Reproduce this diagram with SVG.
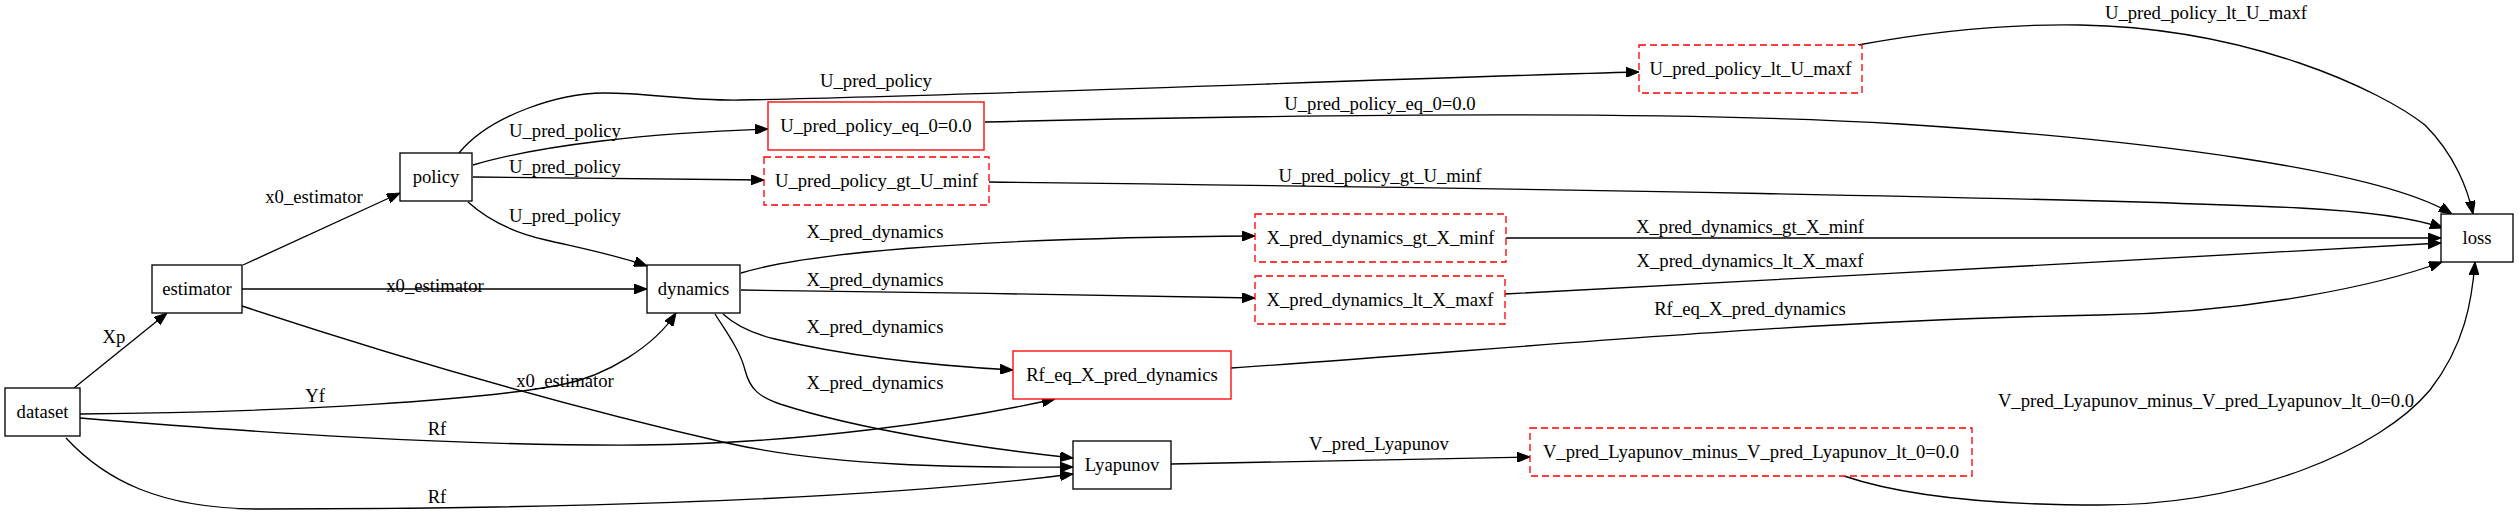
<svg xmlns="http://www.w3.org/2000/svg" width="2519" height="515" viewBox="0 0 2519 515">
<style>
text{font-family:"Liberation Serif","Times New Roman",serif;font-size:18.67px;fill:#000;text-anchor:middle}
.n{fill:#fff;stroke:#000;stroke-width:1.33}
.r{fill:#fff;stroke:#ff0000;stroke-width:1.33}
.d{fill:#fff;stroke:#ff0000;stroke-width:1.33;stroke-dasharray:7,4}
.e{fill:none;stroke:#000;stroke-width:1.33;marker-end:url(#ah)}
</style>
<defs>
<marker id="ah" markerUnits="userSpaceOnUse" viewBox="0 0 13 10" refX="13" refY="5" markerWidth="13" markerHeight="10" orient="auto">
<path d="M0,0 L13,5 L0,10 z" fill="#000" stroke="#000" stroke-width="1"/>
</marker>
</defs>
<rect width="2519" height="515" fill="#fff"/>
<g id="edges">
<path class="e" d="M74,388 L167,313"/>
<text x="114" y="343">Xp</text>
<path class="e" d="M243,265 L400,193"/>
<text x="314" y="203">x0_estimator</text>
<path class="e" d="M242,289 L647,289"/>
<text x="435" y="292">x0_estimator</text>
<path class="e" d="M242,306 C400,358 560,405 727,443 C830,466 960,468 1073,467"/>
<text x="565" y="387">x0_estimator</text>
<path class="e" d="M80,414 C300,412 480,400 560,385 C608,376 655,345 676,313"/>
<text x="315" y="402">Yf</text>
<path class="e" d="M80,418 C250,432 450,446 640,445 C800,444 960,420 1055,399"/>
<text x="437" y="435">Rf</text>
<path class="e" d="M66,438 C105,480 160,509 260,509 C500,509 850,503 1073,474"/>
<text x="437" y="503">Rf</text>
<path class="e" d="M459,153 C490,115 560,93 604,93 C650,93 690,101 740,100 C1000,95 1400,78 1639,72"/>
<text x="876" y="87">U_pred_policy</text>
<path class="e" d="M473,165 C540,145 650,133 768,129"/>
<text x="565" y="137">U_pred_policy</text>
<path class="e" d="M473,177 C600,178 700,179 764,180"/>
<text x="565" y="173">U_pred_policy</text>
<path class="e" d="M468,202 C490,222 515,233 546,240 C580,248 620,256 647,266"/>
<text x="565" y="222">U_pred_policy</text>
<path class="e" d="M741,273 C800,255 950,238 1255,236"/>
<text x="875" y="238">X_pred_dynamics</text>
<path class="e" d="M741,290 C900,292 1100,295 1255,298"/>
<text x="875" y="286">X_pred_dynamics</text>
<path class="e" d="M723,314 C735,325 750,333 775,339 C850,357 940,366 1013,370"/>
<text x="875" y="333">X_pred_dynamics</text>
<path class="e" d="M715,314 C725,330 740,350 745,370 C750,390 760,397 780,404 C860,430 980,448 1073,458"/>
<text x="875" y="389">X_pred_dynamics</text>
<path class="e" d="M985,122 C1400,112 1700,112 1900,124 C2150,140 2380,170 2452,214"/>
<text x="1380" y="110">U_pred_policy_eq_0=0.0</text>
<path class="e" d="M989,182 C1500,188 2100,198 2300,208 C2380,212 2420,220 2443,228"/>
<text x="1380" y="182">U_pred_policy_gt_U_minf</text>
<path class="e" d="M1506,238 L2441,238"/>
<text x="1750" y="233">X_pred_dynamics_gt_X_minf</text>
<path class="e" d="M1505,294 C1800,279 2200,256 2441,243"/>
<text x="1750" y="267">X_pred_dynamics_lt_X_maxf</text>
<path class="e" d="M1231,368 C1500,350 1800,320 2100,315 C2250,313 2380,285 2442,262"/>
<text x="1750" y="315">Rf_eq_X_pred_dynamics</text>
<path class="e" d="M1858,45 C1950,28 2020,24 2080,25 C2250,28 2380,90 2425,125 C2455,155 2468,190 2473,214"/>
<text x="2206" y="19">U_pred_policy_lt_U_maxf</text>
<path class="e" d="M1171,464 L1530,457"/>
<text x="1379" y="450">V_pred_Lyapunov</text>
<path class="e" d="M1844,476 C1900,495 1980,505 2100,505 C2250,505 2380,450 2430,390 C2465,345 2472,300 2475,262"/>
<text x="2206" y="407">V_pred_Lyapunov_minus_V_pred_Lyapunov_lt_0=0.0</text>
</g>
<g id="dataset"><rect class="n" x="5" y="388" width="75" height="48"/><text x="42.5" y="418">dataset</text></g>
<g id="estimator"><rect class="n" x="152" y="265" width="90" height="48"/><text x="197" y="295">estimator</text></g>
<g id="policy"><rect class="n" x="400" y="153" width="72" height="48"/><text x="436" y="183">policy</text></g>
<g id="dynamics"><rect class="n" x="647" y="265" width="93" height="48"/><text x="693.5" y="295">dynamics</text></g>
<g id="U_pred_policy_eq_0"><rect class="r" x="768" y="102" width="216" height="48"/><text x="876" y="132">U_pred_policy_eq_0=0.0</text></g>
<g id="U_pred_policy_gt_U_minf"><rect class="d" x="764" y="157" width="225" height="48"/><text x="876.5" y="187">U_pred_policy_gt_U_minf</text></g>
<g id="U_pred_policy_lt_U_maxf"><rect class="d" x="1639" y="45" width="223" height="48"/><text x="1750.5" y="75">U_pred_policy_lt_U_maxf</text></g>
<g id="X_pred_dynamics_gt_X_minf"><rect class="d" x="1255" y="214" width="251" height="48"/><text x="1380.5" y="244">X_pred_dynamics_gt_X_minf</text></g>
<g id="X_pred_dynamics_lt_X_maxf"><rect class="d" x="1255" y="276" width="250" height="48"/><text x="1380" y="306">X_pred_dynamics_lt_X_maxf</text></g>
<g id="Rf_eq_X_pred_dynamics"><rect class="r" x="1013" y="351" width="218" height="48"/><text x="1122" y="381">Rf_eq_X_pred_dynamics</text></g>
<g id="Lyapunov"><rect class="n" x="1073" y="441" width="98" height="48"/><text x="1122" y="471">Lyapunov</text></g>
<g id="V_pred_Lyapunov_minus_V_pred_Lyapunov_lt_0"><rect class="d" x="1530" y="428" width="442" height="48"/><text x="1751" y="458">V_pred_Lyapunov_minus_V_pred_Lyapunov_lt_0=0.0</text></g>
<g id="loss"><rect class="n" x="2441" y="214" width="72" height="48"/><text x="2477" y="244">loss</text></g>
</svg>
